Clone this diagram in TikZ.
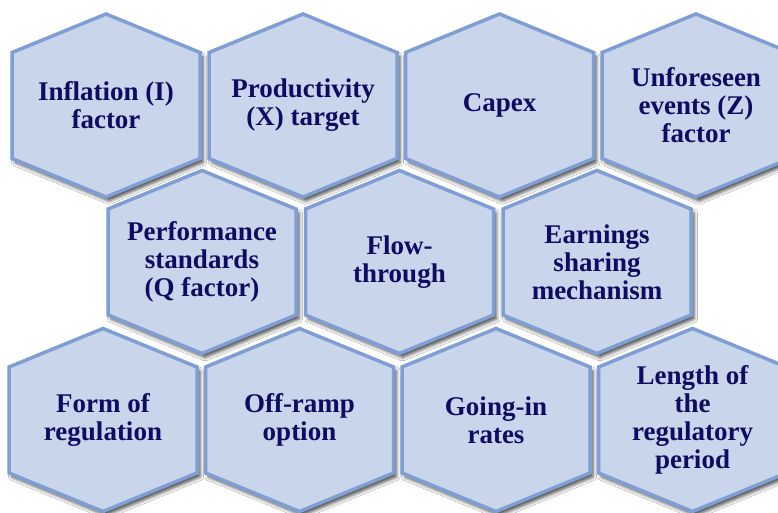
\documentclass[tikz,border=0pt]{standalone}
\usepackage{fontspec}
\setmainfont{Liberation Serif}
\usetikzlibrary{shadows.blur}

\definecolor{hexfill}{RGB}{201,213,234}
\definecolor{hexline}{RGB}{127,158,211}
\definecolor{hextext}{RGB}{14,11,99}

\tikzset{
  hexcell/.style={fill=hexfill, draw=hexline, line width=3.5pt, line join=miter,
    blur shadow={shadow xshift=3pt, shadow yshift=-4pt,
                 shadow blur radius=3.5pt, shadow opacity=70}},
  hexlabel/.style={text=hextext, align=center, inner sep=0pt,
    font=\fontsize{27}{28}\selectfont\bfseries},
}

% one honeycomb cell: centre x, centre y, node name, label
\newcommand\hexitem[4]{%
  \begin{scope}[shift={(#1,#2)}]
    \path[hexcell] (0,-91.5) -- (94,-53) -- (94,53) -- (0,91.5)
                   -- (-94,53) -- (-94,-53) -- cycle;
  \end{scope}
  \node[hexlabel] (#3) at (#1,#2) {#4};
}

\begin{document}
\begin{tikzpicture}[x=1pt, y=-1pt]
  \useasboundingbox (0,0) rectangle (778,513);
  \fill[white] (0,0) rectangle (778,513);
  \clip (0,0) rectangle (778,513);

  % top row
  \hexitem{106}{105.5}{inflation}{Inflation (I)\\factor}
  \hexitem{303}{105.5}{productivity}{Productivity\\(X) target}
  \hexitem{499.5}{105.5}{capex}{Capex}
  \hexitem{696}{105.5}{zfactor}{Unforeseen\\events (Z)\\factor}

  % middle row
  \hexitem{202}{262}{qfactor}{Performance\\standards\\(Q factor)}
  \hexitem{399.5}{262}{flow}{Flow-\\through}
  \hexitem{597}{262}{earnings}{Earnings\\sharing\\mechanism}

  % bottom row
  \hexitem{103}{420}{form}{Form of\\regulation}
  \hexitem{299.5}{420}{offramp}{Off-ramp\\option}
  \hexitem{496}{420}{goingin}{Going-in\\rates}
  \hexitem{692.5}{420}{length}{Length of\\the\\regulatory\\period}
\end{tikzpicture}
\end{document}
